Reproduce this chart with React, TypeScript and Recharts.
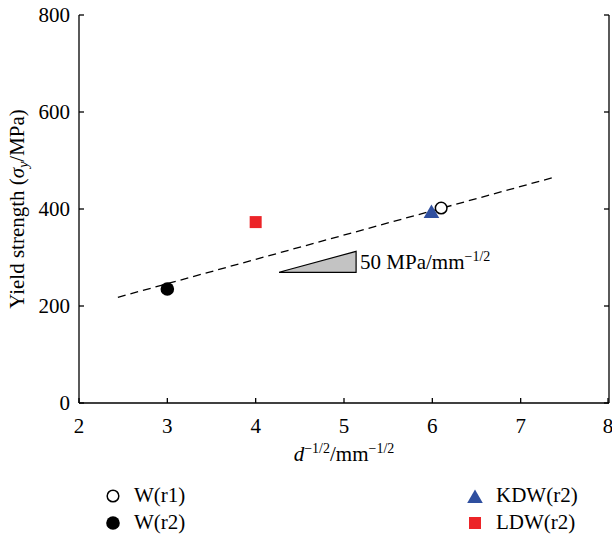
import React from 'react';
import { ScatterChart, Scatter, XAxis, YAxis, ReferenceArea } from 'recharts';

// ---- data ----
const xTicks = [2, 3, 4, 5, 6, 7, 8];
const yTicks = [0, 200, 400, 600, 800];
const xDomain: [number, number] = [2, 8];
const yDomain: [number, number] = [0, 800];

const wr1 = [{ x: 6.1, y: 402 }];
const wr2 = [{ x: 3.0, y: 235 }];
const kdwr2 = [{ x: 5.99, y: 392 }];
const ldwr2 = [{ x: 4.0, y: 373 }];
const fitLine = [
  { x: 2.44, y: 218 },
  { x: 7.37, y: 465 },
];
// slope indicator triangle
const slopeX = [4.265, 5.137];
const slopeY = [269.5, 312.7];
const slopeLabel = '50 MPa/mm';
const slopeSup = '−1/2';

const legendLeft = [
  { name: 'W(r1)', kind: 'open' },
  { name: 'W(r2)', kind: 'filled' },
];
const legendRight = [
  { name: 'KDW(r2)', kind: 'triangle' },
  { name: 'LDW(r2)', kind: 'square' },
];

const BLUE = '#2f4f9f';
const RED = '#ec2428';
const FONT = '"Liberation Serif", "DejaVu Serif", serif';
const FS = 21;
const SUP = 14;
const AXW = 1.3;

const OpenCircle = (p: any) => (
  <circle cx={p.cx} cy={p.cy} r={5.8} fill="#fff" stroke="#000" strokeWidth={1.5} />
);
const FilledCircle = (p: any) => <circle cx={p.cx} cy={p.cy} r={6.8} fill="#000" />;
const Square = (p: any) => <rect x={p.cx - 6} y={p.cy - 6} width={12} height={12} fill={RED} />;
const Triangle = (p: any) => (
  <polygon
    points={`${p.cx},${p.cy - 8.5} ${p.cx - 7.8},${p.cy + 5} ${p.cx + 7.8},${p.cy + 5}`}
    fill={BLUE}
  />
);
const Nothing = () => <g />;

const BottomTick = (p: any) => (
  <g>
    <line x1={p.x} x2={p.x} y1={p.y} y2={p.y - 5} stroke="#000" strokeWidth={AXW} />
    <text x={p.x} y={p.y + 30} textAnchor="middle" fontSize={FS} fontFamily={FONT} fill="#000">
      {p.payload.value}
    </text>
  </g>
);
const TopTick = (p: any) => (
  <line x1={p.x} x2={p.x} y1={p.y} y2={p.y + 5} stroke="#000" strokeWidth={AXW} />
);
const LeftTick = (p: any) => (
  <g>
    <line x1={p.x} x2={p.x + 5} y1={p.y} y2={p.y} stroke="#000" strokeWidth={AXW} />
    <text x={p.x - 9} y={p.y + 7} textAnchor="end" fontSize={FS} fontFamily={FONT} fill="#000">
      {p.payload.value}
    </text>
  </g>
);
const RightTick = (p: any) => (
  <line x1={p.x} x2={p.x - 5} y1={p.y} y2={p.y} stroke="#000" strokeWidth={AXW} />
);

const XLabel = (p: any) => {
  const vb = p.viewBox || { x: 79, y: 403, width: 530 };
  return (
    <text
      x={vb.x + vb.width / 2}
      y={vb.y + 58}
      textAnchor="middle"
      fontSize={FS}
      fontFamily={FONT}
      fill="#000"
    >
      <tspan fontStyle="italic">d</tspan>
      <tspan fontSize={SUP} dy={-8}>−1/2</tspan>
      <tspan dy={8}>/mm</tspan>
      <tspan fontSize={SUP} dy={-8}>−1/2</tspan>
    </text>
  );
};

const YLabel = (p: any) => {
  const vb = p.viewBox || { x: 0, y: 15, width: 79, height: 388 };
  const cx = 24;
  const cy = vb.y + vb.height / 2;
  return (
    <text
      x={cx}
      y={cy}
      transform={`rotate(-90 ${cx} ${cy})`}
      textAnchor="middle"
      fontSize={FS}
      fontFamily={FONT}
      fill="#000"
    >
      <tspan>Yield strength (</tspan>
      <tspan fontStyle="italic">σ</tspan>
      <tspan fontStyle="italic" fontSize={SUP} dy={4}>y</tspan>
      <tspan dy={-4}>/MPa)</tspan>
    </text>
  );
};

const SlopeShape = (p: any) => {
  const { x, y, width, height } = p;
  return (
    <g>
      <polygon
        points={`${x},${y + height} ${x + width},${y + height} ${x + width},${y}`}
        fill="#c3c3c3"
        stroke="#000"
        strokeWidth={1.2}
      />
      <text x={x + width + 4} y={y + height - 3} fontSize={FS} fontFamily={FONT} fill="#000">
        {slopeLabel}
        <tspan fontSize={SUP} dy={-8}>{slopeSup}</tspan>
      </text>
    </g>
  );
};

const LegendMarker = ({ kind }: { kind: string }) => (
  <svg width={20} height={20} style={{ display: 'block' }}>
    {kind === 'open' && <OpenCircle cx={10} cy={10} />}
    {kind === 'filled' && <FilledCircle cx={10} cy={10} />}
    {kind === 'triangle' && <Triangle cx={10} cy={12} />}
    {kind === 'square' && <Square cx={10} cy={10} />}
  </svg>
);

const LegendCol = ({ items, left }: { items: any[]; left: number }) => (
  <div style={{ position: 'absolute', left, top: 482 }}>
    {items.map((it) => (
      <div
        key={it.name}
        style={{ display: 'flex', alignItems: 'center', height: 27, fontFamily: FONT, fontSize: FS }}
      >
        <LegendMarker kind={it.kind} />
        <span style={{ marginLeft: 11 }}>{it.name}</span>
      </div>
    ))}
  </div>
);

export default function App() {
  return (
    <div style={{ position: 'absolute', left: 0, top: 0, width: 612, height: 538, background: '#fff' }}>
      <ScatterChart
        width={612}
        height={538}
        margin={{ top: 15, right: 0, bottom: 75, left: 0 }}
        style={{ fontFamily: FONT }}
      >
        <XAxis
          type="number"
          dataKey="x"
          xAxisId={0}
          domain={xDomain}
          ticks={xTicks}
          allowDataOverflow
          height={60}
          tickSize={0}
          tickMargin={0}
          tick={BottomTick}
          tickLine={false}
          axisLine={{ stroke: '#000', strokeWidth: AXW }}
          label={{ content: XLabel }}
        />
        <XAxis
          type="number"
          dataKey="x"
          xAxisId="top"
          orientation="top"
          domain={xDomain}
          ticks={xTicks}
          allowDataOverflow
          height={0}
          tickSize={0}
          tickMargin={0}
          tick={TopTick}
          tickLine={false}
          axisLine={{ stroke: '#000', strokeWidth: AXW }}
        />
        <YAxis
          type="number"
          dataKey="y"
          yAxisId={0}
          domain={yDomain}
          ticks={yTicks}
          allowDataOverflow
          width={79}
          tickSize={0}
          tickMargin={0}
          tick={LeftTick}
          tickLine={false}
          axisLine={{ stroke: '#000', strokeWidth: AXW }}
          label={{ content: YLabel }}
        />
        <YAxis
          type="number"
          dataKey="y"
          yAxisId="right"
          orientation="right"
          domain={yDomain}
          ticks={yTicks}
          allowDataOverflow
          width={3}
          tickSize={0}
          tickMargin={0}
          tick={RightTick}
          tickLine={false}
          axisLine={{ stroke: '#000', strokeWidth: AXW }}
        />
        <ReferenceArea
          x1={slopeX[0]}
          x2={slopeX[1]}
          y1={slopeY[0]}
          y2={slopeY[1]}
          shape={SlopeShape}
          ifOverflow="visible"
        />
        <Scatter
          name="fit"
          data={fitLine}
          line={{ stroke: '#000', strokeWidth: 1.3, strokeDasharray: '8 5' }}
          shape={Nothing}
          isAnimationActive={false}
        />
        <Scatter name="W(r1)" data={wr1} shape={OpenCircle} isAnimationActive={false} />
        <Scatter name="W(r2)" data={wr2} shape={FilledCircle} isAnimationActive={false} />
        <Scatter name="LDW(r2)" data={ldwr2} shape={Square} isAnimationActive={false} />
        <Scatter name="KDW(r2)" data={kdwr2} shape={Triangle} isAnimationActive={false} />
      </ScatterChart>
      <LegendCol items={legendLeft} left={103} />
      <LegendCol items={legendRight} left={465} />
    </div>
  );
}
